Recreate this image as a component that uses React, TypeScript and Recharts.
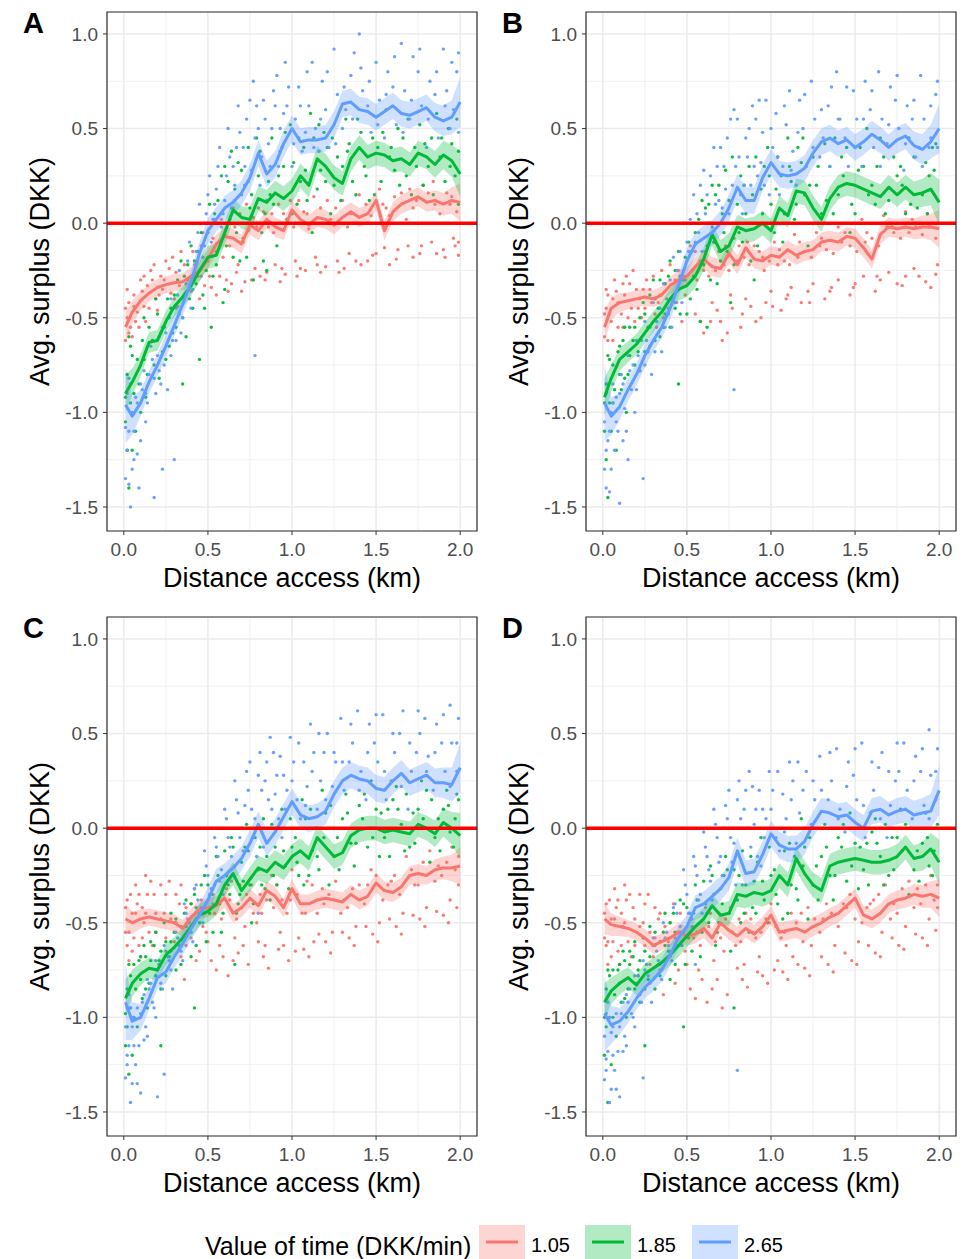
import React from "react";
import {
  ComposedChart,
  Line,
  Area,
  Scatter,
  XAxis,
  YAxis,
  CartesianGrid,
  ReferenceLine,
  ReferenceArea,
  Label,
} from "recharts";

const FONT = "'Liberation Sans', Arial, Helvetica, sans-serif";
const RED = "#F8766D";
const GREEN = "#00BA38";
const BLUE = "#619CFF";

const X_TICKS = [0, 0.5, 1, 1.5, 2];
const X_MINOR = [0.25, 0.75, 1.25, 1.75];
const Y_TICKS = [-1.5, -1, -0.5, 0, 0.5, 1];
const Y_MINOR = [-1.25, -0.75, -0.25, 0.25, 0.75];
const X_DOMAIN: [number, number] = [-0.1, 2.1];
const Y_DOMAIN: [number, number] = [-1.627, 1.116];

const PANEL_LABELS = ["A", "B", "C", "D"];
const SERIES_LABELS = ["1.05", "1.85", "2.65"];
const LEGEND_TITLE = "Value of time (DKK/min)";
const X_TITLE = "Distance access (km)";
const Y_TITLE = "Avg. surplus (DKK)";

// x positions of the smoothed means
const X_GRID = [0.01,0.05,0.1,0.15,0.2,0.25,0.3,0.35,0.4,0.45,0.5,0.55,0.6,0.65,0.7,0.75,0.8,0.85,0.9,0.95,1.0,1.05,1.1,1.15,1.2,1.25,1.3,1.35,1.4,1.45,1.5,1.55,1.6,1.65,1.7,1.75,1.8,1.85,1.9,1.95,2.0];

// smoothed means — panel A
const A_RED = [-0.55,-0.47,-0.41,-0.37,-0.34,-0.325,-0.315,-0.31,-0.28,-0.255,-0.19,-0.11,-0.07,-0.08,-0.11,-0.01,-0.04,0.02,-0.02,-0.04,0.07,0.02,-0.01,0.03,0.02,-0.01,0.03,0.06,0.03,0.05,0.12,-0.04,0.06,0.10,0.12,0.14,0.11,0.12,0.10,0.12,0.11];
const A_GREEN = [-0.90,-0.84,-0.75,-0.63,-0.62,-0.52,-0.44,-0.39,-0.33,-0.25,-0.18,-0.17,-0.05,0.07,0.03,0.02,0.13,0.11,0.16,0.13,0.17,0.25,0.20,0.34,0.30,0.24,0.21,0.34,0.40,0.35,0.37,0.36,0.33,0.34,0.31,0.37,0.35,0.31,0.36,0.33,0.26];
const A_BLUE = [-0.96,-1.02,-0.95,-0.84,-0.75,-0.65,-0.54,-0.43,-0.31,-0.16,-0.04,0.02,0.08,0.11,0.16,0.24,0.37,0.26,0.31,0.42,0.50,0.43,0.44,0.44,0.45,0.52,0.63,0.64,0.60,0.59,0.56,0.59,0.62,0.58,0.57,0.59,0.61,0.56,0.54,0.56,0.64];
// panel B
const B_RED = [-0.55,-0.45,-0.42,-0.41,-0.40,-0.39,-0.40,-0.38,-0.33,-0.30,-0.28,-0.23,-0.19,-0.23,-0.24,-0.16,-0.22,-0.13,-0.19,-0.20,-0.17,-0.18,-0.14,-0.17,-0.15,-0.14,-0.10,-0.09,-0.10,-0.07,-0.08,-0.13,-0.19,-0.06,-0.02,-0.03,-0.02,-0.03,-0.02,-0.02,-0.03];
const B_GREEN = [-0.92,-0.82,-0.72,-0.68,-0.64,-0.58,-0.52,-0.47,-0.40,-0.35,-0.33,-0.28,-0.19,-0.06,-0.15,-0.12,-0.02,-0.04,-0.03,0.0,-0.04,0.08,0.04,0.17,0.16,0.08,0.02,0.13,0.19,0.21,0.20,0.18,0.16,0.14,0.19,0.15,0.19,0.15,0.16,0.18,0.11];
const B_BLUE = [-0.95,-1.02,-0.97,-0.88,-0.80,-0.70,-0.62,-0.55,-0.45,-0.33,-0.20,-0.11,-0.08,-0.05,0.0,0.08,0.19,0.12,0.12,0.24,0.32,0.26,0.25,0.26,0.29,0.37,0.43,0.45,0.42,0.44,0.40,0.43,0.47,0.44,0.40,0.44,0.46,0.41,0.39,0.43,0.50];
// panel C
const C_RED = [-0.48,-0.50,-0.48,-0.47,-0.48,-0.49,-0.50,-0.53,-0.47,-0.43,-0.42,-0.41,-0.37,-0.45,-0.42,-0.37,-0.41,-0.33,-0.36,-0.42,-0.32,-0.40,-0.40,-0.38,-0.37,-0.38,-0.39,-0.35,-0.38,-0.36,-0.29,-0.33,-0.34,-0.31,-0.25,-0.24,-0.25,-0.22,-0.21,-0.21,-0.20];
const C_GREEN = [-0.90,-0.82,-0.77,-0.74,-0.75,-0.67,-0.63,-0.58,-0.52,-0.46,-0.44,-0.40,-0.30,-0.24,-0.33,-0.27,-0.21,-0.23,-0.18,-0.21,-0.15,-0.12,-0.16,-0.05,-0.10,-0.15,-0.13,-0.04,-0.01,0.0,0.0,-0.02,-0.01,-0.02,-0.03,0.02,0.0,-0.03,0.03,0.0,-0.04];
const C_BLUE = [-0.92,-1.02,-1.00,-0.90,-0.79,-0.76,-0.68,-0.61,-0.53,-0.46,-0.38,-0.28,-0.25,-0.21,-0.16,-0.08,0.02,-0.08,-0.02,0.06,0.14,0.07,0.05,0.06,0.09,0.18,0.25,0.28,0.26,0.25,0.21,0.20,0.25,0.29,0.24,0.26,0.28,0.24,0.24,0.23,0.32];
// panel D
const D_RED = [-0.48,-0.51,-0.52,-0.53,-0.55,-0.58,-0.62,-0.60,-0.58,-0.55,-0.57,-0.56,-0.53,-0.58,-0.50,-0.54,-0.57,-0.53,-0.56,-0.52,-0.46,-0.55,-0.54,-0.53,-0.55,-0.52,-0.50,-0.47,-0.45,-0.41,-0.37,-0.46,-0.48,-0.45,-0.40,-0.38,-0.37,-0.35,-0.36,-0.35,-0.37];
const D_GREEN = [-0.92,-0.86,-0.82,-0.79,-0.83,-0.77,-0.74,-0.71,-0.67,-0.62,-0.57,-0.52,-0.48,-0.41,-0.46,-0.45,-0.35,-0.36,-0.34,-0.35,-0.33,-0.25,-0.30,-0.16,-0.24,-0.30,-0.33,-0.20,-0.18,-0.17,-0.16,-0.17,-0.18,-0.18,-0.17,-0.15,-0.10,-0.16,-0.15,-0.11,-0.18];
const D_BLUE = [-0.98,-1.04,-1.02,-0.97,-0.90,-0.84,-0.80,-0.75,-0.67,-0.58,-0.52,-0.42,-0.40,-0.36,-0.32,-0.26,-0.12,-0.24,-0.23,-0.14,-0.03,-0.09,-0.11,-0.11,-0.07,0.02,0.09,0.08,0.06,0.07,0.03,0.0,0.09,0.10,0.07,0.09,0.10,0.07,0.08,0.09,0.20];

// confidence half-widths of the ribbons
const BAND_RED = [0.08,0.06,0.05,0.045,0.045,0.045,0.045,0.045,0.045,0.05,0.05,0.05,0.05,0.05,0.05,0.05,0.05,0.05,0.05,0.05,0.05,0.05,0.05,0.05,0.05,0.05,0.05,0.05,0.05,0.05,0.05,0.05,0.05,0.05,0.05,0.05,0.05,0.055,0.06,0.07,0.10];
const BAND_GREEN = [0.10,0.07,0.06,0.055,0.055,0.055,0.055,0.055,0.055,0.06,0.06,0.06,0.06,0.06,0.06,0.065,0.065,0.065,0.065,0.065,0.065,0.065,0.065,0.065,0.065,0.065,0.065,0.065,0.065,0.065,0.065,0.065,0.065,0.065,0.065,0.065,0.065,0.07,0.075,0.085,0.12];
const BAND_BLUE = [0.20,0.10,0.07,0.06,0.06,0.06,0.06,0.06,0.06,0.06,0.065,0.065,0.065,0.065,0.065,0.07,0.07,0.07,0.07,0.07,0.07,0.07,0.07,0.07,0.07,0.07,0.07,0.07,0.07,0.07,0.07,0.07,0.07,0.07,0.07,0.07,0.07,0.075,0.08,0.09,0.13];

// scatter points, flat [x, y, x, y, ...]
const PTS_A_RED = [0.01,-0.62,0.02,-0.50,0.03,-0.42,0.04,-0.55,0.06,-0.38,0.08,-0.47,0.10,-0.30,0.12,-0.44,0.14,-0.33,0.16,-0.25,0.19,-0.40,0.22,-0.28,0.25,-0.20,0.28,-0.37,0.31,-0.26,0.34,-0.15,0.38,-0.30,0.42,-0.22,0.46,-0.12,0.48,-0.33,
  0.53,-0.08,0.58,0.02,0.63,-0.12,0.69,0.05,0.74,-0.04,0.80,0.08,0.86,-0.02,0.92,0.10,0.98,0.0,1.04,0.12,1.10,-0.03,1.17,0.08,1.23,0.02,1.30,0.12,1.37,0.0,1.44,0.10,1.52,0.18,1.58,0.04,1.65,0.16,1.72,0.08,1.78,0.20,1.85,0.10,1.92,0.16,1.98,0.06,
  0.52,-0.34,0.57,-0.28,0.62,-0.36,0.67,-0.26,0.72,-0.31,0.78,-0.24,0.84,-0.30,0.90,-0.22,0.96,-0.27,1.02,-0.20,1.08,-0.25,1.14,-0.18,1.20,-0.23,1.27,-0.20,1.34,-0.16,1.41,-0.22,1.48,-0.17,1.55,-0.13,1.62,-0.19,1.69,-0.12,1.76,-0.16,1.83,-0.10,1.90,-0.14,1.96,-0.08,1.99,-0.17];
const PTS_A_RED_2 = [0.02,-0.35,0.05,-0.60,0.07,-0.52,0.11,-0.36,0.13,-0.52,0.17,-0.30,0.20,-0.46,0.23,-0.35,0.27,-0.24,0.30,-0.40,0.33,-0.33,0.36,-0.22,0.40,-0.36,0.44,-0.28,0.50,-0.20,0.55,-0.15,0.60,-0.06,0.66,-0.02,0.71,-0.10,0.77,0.03,0.83,0.06,0.89,-0.05,0.95,0.05,1.01,-0.02,1.07,0.06,1.13,0.14,1.26,0.08,1.33,-0.02,1.40,0.15,1.47,0.04,1.54,0.10,1.61,0.14,1.68,0.02,1.74,0.12,1.81,0.16,1.88,0.05,1.95,0.14,0.55,-0.38,0.64,-0.32,0.70,-0.36,0.81,-0.28,0.93,-0.31,1.05,-0.24,1.17,-0.26,1.31,-0.24,1.45,-0.20,1.58,-0.22,1.72,-0.18,1.86,-0.16,1.97,-0.12];
const PTS_A_RED_3 = [0.01,-0.45,0.03,-0.58,0.06,-0.44,0.09,-0.55,0.12,-0.28,0.15,-0.45,0.18,-0.22,0.21,-0.38,0.24,-0.30,0.29,-0.18,0.32,-0.44,0.37,-0.38,0.41,-0.15,0.45,-0.40,0.47,-0.05,0.51,-0.28,0.54,0.02,0.59,-0.18,0.61,-0.30,0.65,0.08,0.68,-0.22,0.73,0.10,0.76,-0.30,0.79,-0.02,0.85,-0.26,0.88,0.05,0.94,-0.24,0.99,0.12,1.03,-0.28,1.09,0.05,1.15,-0.22,1.21,0.12,1.28,-0.26,1.35,0.05,1.38,-0.20,1.46,0.00,1.50,-0.16,1.56,0.08,1.63,-0.14,1.70,0.18,1.77,-0.12,1.84,0.22,1.91,-0.18,1.94,0.10,1.99,-0.10];
const PTS_A_GREEN = [0.01,-1.05,0.02,-0.80,0.03,-1.40,0.04,-0.95,0.05,-0.70,0.07,-1.10,0.09,-0.85,0.11,-0.62,0.13,-0.92,0.15,-0.55,0.18,-0.75,0.20,-0.48,0.23,-0.68,0.26,-0.40,0.29,-0.58,0.32,-0.30,0.35,-0.50,0.38,-0.22,0.41,-0.45,0.44,-0.15,0.47,-0.38,0.50,-0.05,0.53,-0.28,0.56,0.12,0.59,-0.42,0.62,0.22,0.65,-0.18,0.68,0.32,0.71,-0.08,0.74,0.40,0.77,-0.30,0.80,0.25,0.84,0.05,0.88,0.45,0.91,-0.12,0.95,0.30,0.99,0.52,1.03,0.10,1.07,0.40,1.11,0.58,1.15,0.18,1.19,0.48,1.23,0.05,1.27,0.35,1.32,0.55,1.36,0.22,1.41,0.48,1.46,0.12,1.51,0.40,1.56,0.60,1.61,0.28,1.66,0.45,1.71,0.15,1.76,0.52,1.81,0.30,1.86,0.58,1.91,0.22,1.95,0.42,1.99,0.10,1.98,0.55,0.35,-0.85,0.45,-0.72,0.52,-0.55];
const PTS_A_GREEN_2 = [0.02,-1.20,0.04,-0.65,0.06,-0.90,0.10,-1.00,0.12,-0.72,0.17,-0.62,0.21,-0.82,0.24,-0.55,0.27,-0.65,0.30,-0.38,0.33,-0.48,0.36,-0.28,0.39,-0.40,0.42,-0.20,0.46,-0.05,0.49,-0.25,0.54,0.05,0.57,-0.10,0.60,0.30,0.63,0.02,0.66,0.18,0.69,-0.20,0.72,0.20,0.75,0.08,0.79,0.45,0.82,-0.05,0.86,0.22,0.89,0.10,0.93,0.38,0.97,0.02,1.01,0.32,1.05,0.22,1.09,0.12,1.13,0.45,1.17,0.28,1.21,0.40,1.25,0.20,1.30,0.30,1.34,0.42,1.38,0.15,1.43,0.30,1.48,0.45,1.53,0.22,1.58,0.35,1.63,0.50,1.68,0.25,1.73,0.40,1.78,0.20,1.83,0.45,1.88,0.35,1.93,0.50,1.97,0.25,0.60,-0.35,0.85,-0.25];
const PTS_A_GREEN_3 = [0.01,-0.92,0.03,-0.60,0.05,-1.20,0.08,-0.72,0.12,-0.50,0.14,-0.80,0.19,-0.40,0.22,-0.58,0.25,-0.72,0.28,-0.45,0.31,-0.55,0.34,-0.20,0.37,-0.60,0.40,-0.12,0.43,-0.32,0.48,-0.45,0.51,0.10,0.55,-0.22,0.58,0.25,0.61,-0.12,0.64,0.38,0.67,-0.05,0.70,0.28,0.73,-0.18,0.76,0.15,0.81,0.38,0.83,-0.20,0.87,0.15,0.92,0.25,0.96,0.48,1.00,0.05,1.04,0.45,1.08,0.28,1.12,-0.05,1.16,0.52,1.20,0.22,1.24,0.45,1.29,0.12,1.33,0.38,1.39,0.55,1.44,0.25,1.49,0.15,1.54,0.48,1.59,0.40,1.64,0.20,1.69,0.55,1.74,0.30,1.79,0.42,1.84,0.15,1.89,0.45,1.94,0.30,1.99,0.38];
const PTS_A_BLUE = [0.01,-1.35,0.02,-0.90,0.03,-1.10,0.04,-1.50,0.05,-1.00,0.06,-1.25,0.08,-0.95,0.09,-1.40,0.11,-0.88,0.13,-1.05,0.15,-0.80,0.18,-1.45,0.20,-0.70,0.22,-0.85,0.23,-1.30,0.25,-0.58,0.28,-0.70,0.30,-1.25,0.31,-0.45,0.34,-0.58,0.37,-0.32,0.40,-0.45,0.43,-0.15,0.46,-0.28,0.49,0.05,0.52,-0.10,0.55,0.18,0.58,-0.02,0.61,0.25,0.64,0.08,0.67,0.40,0.70,0.15,0.73,0.55,0.76,0.28,0.79,0.62,0.82,0.35,0.85,0.12,0.88,0.50,0.91,0.78,0.94,0.40,0.97,0.62,1.00,0.30,1.04,0.72,1.08,0.48,1.12,0.85,1.16,0.38,1.20,0.60,1.25,0.92,1.30,0.50,1.35,0.78,1.40,1.00,1.45,0.62,1.50,0.85,1.55,0.45,1.60,0.72,1.65,0.95,1.70,0.55,1.75,0.80,1.80,0.40,1.85,0.68,1.90,0.92,1.94,0.50,1.98,0.80,0.78,-0.70];
const PTS_A_BLUE_2 = [0.02,-1.20,0.03,-0.82,0.05,-1.30,0.07,-0.92,0.10,-1.15,0.12,-0.78,0.14,-0.95,0.17,-0.72,0.19,-0.90,0.21,-0.60,0.24,-0.75,0.27,-0.50,0.29,-0.62,0.32,-0.38,0.35,-0.50,0.38,-0.20,0.41,-0.35,0.44,-0.05,0.47,-0.18,0.50,0.15,0.53,0.02,0.56,0.30,0.60,0.12,0.63,0.35,0.66,0.20,0.69,0.48,0.72,0.30,0.75,0.65,0.78,0.45,0.81,0.20,0.84,0.55,0.87,0.30,0.90,0.62,0.93,0.50,0.96,0.85,1.02,0.55,1.06,0.38,1.10,0.62,1.14,0.50,1.18,0.75,1.22,0.40,1.27,0.68,1.32,0.60,1.37,0.90,1.42,0.70,1.47,0.48,1.52,0.65,1.57,0.80,1.62,0.52,1.67,0.70,1.72,0.88,1.77,0.62,1.82,0.75,1.87,0.45,1.92,0.70,1.96,0.60,1.99,0.90];
const PTS_A_BLUE_3 = [0.01,-1.08,0.03,-1.38,0.04,-0.85,0.06,-1.10,0.08,-1.22,0.10,-0.85,0.13,-0.90,0.16,-0.65,0.18,-0.82,0.21,-0.78,0.23,-0.55,0.26,-0.88,0.28,-0.40,0.31,-0.62,0.33,-0.25,0.36,-0.40,0.39,-0.10,0.42,-0.30,0.45,0.10,0.48,-0.12,0.51,0.25,0.54,0.10,0.57,0.40,0.59,0.05,0.62,0.50,0.65,0.30,0.68,0.62,0.71,0.40,0.74,0.22,0.77,0.75,0.80,0.50,0.83,0.65,0.86,0.42,0.89,0.70,0.92,0.30,0.95,0.58,0.98,0.72,1.01,0.42,1.05,0.62,1.09,0.80,1.13,0.40,1.17,0.55,1.21,0.80,1.26,0.42,1.31,0.72,1.36,0.55,1.41,0.82,1.46,0.75,1.51,0.52,1.56,0.68,1.61,0.88,1.66,0.48,1.71,0.65,1.76,0.92,1.81,0.55,1.86,0.80,1.91,0.62,1.95,0.85,1.99,0.48];

const PTS_B_RED = [0.01,-0.60,0.02,-0.45,0.03,-0.38,0.05,-0.52,0.07,-0.30,0.09,-0.42,0.12,-0.55,0.14,-0.28,0.17,-0.45,0.20,-0.35,0.23,-0.50,0.26,-0.30,0.29,-0.42,0.32,-0.55,0.35,-0.25,0.39,-0.45,0.43,-0.30,0.47,-0.52,0.50,-0.20,
  0.55,-0.15,0.60,-0.25,0.66,-0.10,0.72,-0.22,0.78,-0.08,0.84,-0.18,0.90,-0.12,0.96,-0.25,1.02,-0.10,1.08,-0.20,1.14,-0.06,1.20,-0.15,1.27,-0.05,1.33,-0.14,1.40,-0.02,1.47,-0.12,1.54,0.02,1.60,-0.08,1.67,0.04,1.73,-0.05,1.80,0.06,1.86,-0.02,1.93,0.05,1.98,-0.08,
  0.55,-0.48,0.60,-0.58,0.65,-0.42,0.70,-0.52,0.76,-0.38,0.82,-0.55,0.88,-0.44,0.94,-0.50,1.00,-0.36,1.06,-0.46,1.12,-0.34,1.18,-0.42,1.25,-0.32,1.32,-0.40,1.40,-0.30,1.47,-0.38,1.55,-0.28,1.62,-0.36,1.70,-0.26,1.78,-0.33,1.85,-0.24,1.92,-0.31,1.98,-0.27];
const PTS_B_RED_2 = [0.02,-0.35,0.04,-0.48,0.06,-0.62,0.08,-0.36,0.11,-0.48,0.13,-0.38,0.16,-0.32,0.19,-0.52,0.22,-0.40,0.25,-0.45,0.28,-0.35,0.31,-0.48,0.34,-0.38,0.37,-0.32,0.41,-0.40,0.45,-0.25,0.49,-0.38,0.58,-0.20,0.63,-0.28,0.69,-0.15,0.75,-0.25,0.81,-0.12,0.87,-0.22,0.93,-0.15,0.99,-0.20,1.05,-0.14,1.11,-0.22,1.17,-0.10,1.24,-0.18,1.30,-0.08,1.37,-0.16,1.44,-0.05,1.51,-0.15,1.57,-0.05,1.64,-0.12,1.71,0.0,1.77,-0.08,1.84,0.02,1.90,-0.06,1.96,0.0,0.58,-0.52,0.68,-0.46,0.74,-0.58,0.85,-0.40,0.97,-0.42,1.09,-0.40,1.22,-0.36,1.36,-0.34,1.50,-0.32,1.65,-0.30,1.80,-0.28,1.95,-0.34];
const PTS_B_RED_3 = [0.01,-0.48,0.03,-0.62,0.06,-0.40,0.09,-0.55,0.12,-0.32,0.15,-0.50,0.18,-0.25,0.21,-0.45,0.24,-0.35,0.27,-0.55,0.30,-0.28,0.33,-0.42,0.36,-0.50,0.40,-0.22,0.44,-0.42,0.48,-0.28,0.52,-0.12,0.56,-0.30,0.61,-0.15,0.64,-0.52,0.67,-0.25,0.71,-0.62,0.73,-0.12,0.77,-0.45,0.80,-0.20,0.83,-0.48,0.86,-0.10,0.91,-0.52,0.95,-0.18,1.01,-0.44,1.04,-0.22,1.10,-0.38,1.16,-0.18,1.23,-0.42,1.29,-0.12,1.35,-0.36,1.42,-0.10,1.49,-0.34,1.56,-0.10,1.63,-0.28,1.69,-0.02,1.75,-0.32,1.82,-0.05,1.88,-0.28,1.94,-0.02,1.99,-0.22];
const PTS_B_GREEN = [0.01,-1.10,0.02,-0.85,0.03,-1.45,0.04,-0.95,0.06,-0.75,0.08,-1.20,0.10,-0.80,0.12,-0.62,0.14,-1.00,0.16,-0.70,0.19,-0.55,0.22,-0.78,0.25,-0.48,0.28,-0.65,0.31,-0.40,0.34,-0.60,0.37,-0.32,0.40,-0.55,0.43,-0.25,0.46,-0.48,0.49,-0.18,0.52,-0.40,0.55,-0.05,0.58,-0.52,0.61,0.08,0.64,-0.30,0.67,0.15,0.70,-0.20,0.73,0.28,0.76,-0.42,0.80,0.10,0.83,-0.10,0.87,0.30,0.90,-0.30,0.94,0.18,0.98,0.40,1.02,-0.05,1.06,0.25,1.10,0.45,1.14,0.02,1.18,0.32,1.22,-0.12,1.27,0.20,1.32,0.42,1.37,0.05,1.42,0.35,1.47,-0.05,1.52,0.28,1.57,0.50,1.62,0.10,1.67,0.35,1.72,-0.02,1.77,0.30,1.82,0.45,1.87,0.08,1.92,0.32,1.96,0.40,1.99,0.0,0.45,-0.85,0.62,-0.55];
const PTS_B_GREEN_2 = [0.02,-1.25,0.04,-0.72,0.06,-0.95,0.09,-0.68,0.11,-0.88,0.13,-0.55,0.15,-0.80,0.18,-0.62,0.21,-0.68,0.24,-0.42,0.27,-0.55,0.30,-0.30,0.33,-0.45,0.36,-0.55,0.39,-0.28,0.42,-0.40,0.45,-0.15,0.48,-0.30,0.51,-0.10,0.54,-0.28,0.57,0.02,0.60,-0.22,0.63,0.10,0.66,-0.10,0.69,0.20,0.72,-0.05,0.75,0.12,0.78,-0.22,0.82,0.25,0.85,0.05,0.89,0.15,0.92,-0.12,0.96,0.30,1.00,0.10,1.04,0.35,1.08,0.05,1.12,0.22,1.16,0.40,1.20,0.15,1.25,0.35,1.30,0.05,1.35,0.30,1.40,0.15,1.45,0.40,1.50,0.05,1.55,0.30,1.60,0.20,1.65,0.45,1.70,0.12,1.75,0.25,1.80,0.05,1.85,0.35,1.90,0.15,1.94,0.25,1.98,0.42];
const PTS_B_GREEN_3 = [0.01,-0.95,0.03,-0.70,0.05,-1.10,0.07,-0.88,0.10,-0.65,0.13,-0.82,0.16,-0.55,0.19,-0.75,0.22,-0.50,0.25,-0.68,0.28,-0.38,0.31,-0.62,0.34,-0.30,0.37,-0.48,0.40,-0.20,0.43,-0.45,0.46,-0.28,0.50,-0.48,0.53,-0.15,0.56,-0.35,0.59,0.12,0.62,-0.12,0.65,0.20,0.68,-0.32,0.71,0.05,0.74,-0.15,0.77,0.35,0.81,-0.05,0.84,0.20,0.88,-0.20,0.91,0.35,0.95,0.05,0.99,0.25,1.03,0.18,1.07,-0.10,1.11,0.30,1.15,0.10,1.19,0.45,1.23,0.20,1.28,0.30,1.33,0.12,1.38,0.45,1.43,0.25,1.48,0.10,1.53,0.40,1.58,0.15,1.63,0.30,1.68,0.05,1.73,0.35,1.78,0.20,1.83,0.10,1.88,0.40,1.93,0.05,1.97,0.28];
const PTS_B_BLUE = [0.01,-1.30,0.02,-0.90,0.03,-1.15,0.04,-1.42,0.05,-1.00,0.07,-1.20,0.08,-0.92,0.10,-1.48,0.12,-0.85,0.14,-1.10,0.16,-0.78,0.19,-1.00,0.21,-0.70,0.24,-1.35,0.26,-0.62,0.29,-0.80,0.32,-0.52,0.35,-0.68,0.38,-0.40,0.41,-0.55,0.44,-0.25,0.47,-0.42,0.50,-0.10,0.53,-0.25,0.56,0.05,0.59,-0.15,0.62,0.15,0.65,-0.02,0.68,0.30,0.71,0.08,0.74,0.45,0.77,0.20,0.80,0.55,0.83,0.05,0.86,0.35,0.89,0.62,0.92,0.25,0.95,0.48,0.99,0.15,1.03,0.58,1.07,0.30,1.11,0.70,1.15,0.20,1.19,0.50,1.24,0.75,1.29,0.35,1.34,0.62,1.39,0.80,1.44,0.45,1.49,0.70,1.54,0.30,1.59,0.60,1.64,0.80,1.69,0.42,1.74,0.65,1.79,0.28,1.84,0.55,1.89,0.78,1.94,0.40,1.98,0.68,0.78,-0.88];
const PTS_B_BLUE_2 = [0.02,-1.20,0.03,-0.85,0.05,-1.30,0.06,-0.95,0.09,-1.10,0.11,-0.80,0.13,-0.98,0.15,-1.25,0.18,-0.75,0.20,-0.88,0.23,-0.62,0.25,-0.75,0.28,-0.55,0.31,-0.68,0.34,-0.45,0.37,-0.55,0.40,-0.30,0.43,-0.42,0.46,-0.15,0.49,-0.30,0.52,0.02,0.55,-0.10,0.58,0.20,0.61,0.05,0.64,0.25,0.67,0.10,0.70,0.40,0.73,0.18,0.76,0.55,0.79,0.30,0.82,0.15,0.85,0.45,0.88,0.20,0.91,0.55,0.94,0.32,0.97,0.65,1.01,0.40,1.05,0.15,1.09,0.52,1.13,0.38,1.17,0.65,1.21,0.30,1.26,0.55,1.31,0.45,1.36,0.72,1.41,0.55,1.46,0.30,1.51,0.55,1.56,0.75,1.61,0.40,1.66,0.55,1.71,0.72,1.76,0.50,1.81,0.62,1.86,0.35,1.91,0.55,1.95,0.45,1.99,0.75];
const PTS_B_BLUE_3 = [0.01,-1.05,0.02,-1.40,0.04,-1.10,0.06,-0.85,0.08,-1.05,0.10,-0.90,0.12,-1.15,0.15,-0.70,0.17,-0.88,0.20,-0.62,0.22,-0.78,0.25,-0.52,0.27,-0.68,0.30,-0.42,0.33,-0.58,0.36,-0.32,0.39,-0.48,0.42,-0.18,0.45,-0.35,0.48,0.00,0.51,-0.15,0.54,0.15,0.57,-0.05,0.60,0.28,0.63,0.00,0.66,0.40,0.69,0.12,0.72,0.30,0.75,0.05,0.78,0.60,0.81,0.35,0.84,0.20,0.87,0.50,0.90,0.30,0.93,0.65,0.96,0.20,1.00,0.50,1.04,0.35,1.08,0.62,1.12,0.28,1.16,0.48,1.20,0.68,1.25,0.40,1.30,0.60,1.35,0.30,1.40,0.55,1.45,0.72,1.50,0.40,1.55,0.55,1.60,0.70,1.65,0.30,1.70,0.52,1.75,0.78,1.80,0.42,1.85,0.65,1.90,0.30,1.95,0.62,1.99,0.40];

const PTS_C_RED = [0.01,-0.55,0.02,-0.38,0.03,-0.70,0.05,-0.45,0.07,-0.30,0.09,-0.62,0.11,-0.42,0.13,-0.25,0.15,-0.55,0.18,-0.35,0.21,-0.72,0.24,-0.45,0.27,-0.28,0.30,-0.60,0.33,-0.40,0.36,-0.80,0.39,-0.50,0.42,-0.32,0.45,-0.65,0.48,-0.45,
  0.53,-0.35,0.58,-0.48,0.64,-0.28,0.70,-0.42,0.76,-0.30,0.82,-0.45,0.88,-0.25,0.94,-0.38,1.00,-0.22,1.06,-0.45,1.12,-0.30,1.19,-0.40,1.26,-0.28,1.33,-0.42,1.40,-0.30,1.47,-0.22,1.54,-0.38,1.61,-0.25,1.68,-0.15,1.75,-0.30,1.82,-0.12,1.89,-0.25,1.95,-0.10,1.99,-0.30,
  0.52,-0.70,0.57,-0.62,0.62,-0.78,0.68,-0.66,0.74,-0.72,0.80,-0.60,0.86,-0.74,0.92,-0.64,0.98,-0.70,1.04,-0.58,1.10,-0.68,1.16,-0.56,1.23,-0.66,1.30,-0.55,1.37,-0.62,1.44,-0.52,1.51,-0.60,1.58,-0.48,1.65,-0.56,1.72,-0.46,1.79,-0.52,1.86,-0.44,1.93,-0.50,1.98,-0.42];
const PTS_C_RED_2 = [0.02,-0.62,0.04,-0.35,0.06,-0.58,0.08,-0.40,0.10,-0.68,0.12,-0.50,0.14,-0.35,0.17,-0.62,0.19,-0.45,0.22,-0.30,0.25,-0.58,0.28,-0.48,0.31,-0.35,0.34,-0.68,0.37,-0.42,0.40,-0.58,0.43,-0.48,0.46,-0.38,0.49,-0.55,0.56,-0.40,0.61,-0.32,0.67,-0.48,0.73,-0.35,0.79,-0.50,0.85,-0.38,0.91,-0.30,0.97,-0.45,1.03,-0.35,1.09,-0.28,1.15,-0.45,1.22,-0.35,1.29,-0.45,1.36,-0.32,1.43,-0.40,1.50,-0.25,1.57,-0.30,1.64,-0.35,1.71,-0.22,1.78,-0.18,1.85,-0.28,1.92,-0.18,1.97,-0.22,0.55,-0.75,0.65,-0.70,0.71,-0.62,0.83,-0.68,0.95,-0.62,1.07,-0.64,1.20,-0.60,1.34,-0.58,1.48,-0.56,1.62,-0.52,1.76,-0.48,1.90,-0.46];
const PTS_C_RED_3 = [0.01,-0.42,0.03,-0.55,0.05,-0.65,0.07,-0.45,0.09,-0.35,0.11,-0.58,0.13,-0.45,0.16,-0.28,0.19,-0.55,0.22,-0.48,0.25,-0.35,0.28,-0.65,0.31,-0.50,0.34,-0.30,0.37,-0.62,0.40,-0.40,0.43,-0.70,0.47,-0.52,0.50,-0.60,0.54,-0.45,0.59,-0.68,0.63,-0.38,0.66,-0.58,0.69,-0.30,0.72,-0.52,0.77,-0.45,0.81,-0.35,0.84,-0.62,0.89,-0.42,0.93,-0.55,0.99,-0.38,1.02,-0.65,1.08,-0.45,1.13,-0.60,1.18,-0.32,1.24,-0.55,1.31,-0.38,1.38,-0.52,1.45,-0.30,1.52,-0.50,1.59,-0.28,1.66,-0.45,1.73,-0.30,1.80,-0.42,1.87,-0.20,1.94,-0.38,1.99,-0.15];
const PTS_C_GREEN = [0.01,-1.15,0.02,-0.85,0.03,-1.30,0.04,-0.95,0.06,-0.72,0.08,-1.05,0.10,-0.80,0.12,-0.62,0.14,-0.95,0.16,-0.70,0.19,-0.55,0.22,-0.85,0.25,-0.60,0.28,-0.45,0.31,-0.75,0.34,-0.52,0.37,-0.38,0.40,-0.68,0.43,-0.42,0.46,-0.30,0.49,-0.60,0.52,-0.35,0.55,-0.15,0.58,-0.55,0.61,-0.25,0.64,-0.05,0.67,-0.45,0.70,-0.18,0.73,0.02,0.76,-0.50,0.80,-0.22,0.83,0.05,0.87,-0.38,0.90,-0.10,0.94,0.10,0.98,-0.32,1.02,-0.05,1.06,0.15,1.10,-0.25,1.14,0.0,1.18,0.20,1.22,-0.30,1.27,-0.05,1.32,0.18,1.37,-0.20,1.42,0.05,1.47,0.25,1.52,-0.15,1.57,0.10,1.62,0.22,1.67,-0.12,1.72,0.08,1.77,0.25,1.82,-0.18,1.87,0.05,1.92,0.20,1.96,-0.10,1.99,0.15,0.22,-1.15,0.42,-0.95,0.66,-0.72];
const PTS_C_GREEN_2 = [0.02,-1.05,0.04,-0.78,0.06,-1.00,0.09,-0.70,0.11,-0.90,0.13,-0.68,0.15,-0.82,0.18,-0.62,0.21,-0.70,0.24,-0.50,0.27,-0.68,0.30,-0.55,0.33,-0.62,0.36,-0.45,0.39,-0.55,0.42,-0.35,0.45,-0.50,0.48,-0.25,0.51,-0.45,0.54,-0.30,0.57,-0.40,0.60,-0.12,0.63,-0.35,0.66,-0.20,0.69,-0.35,0.72,-0.10,0.75,-0.30,0.78,-0.05,0.82,-0.30,0.85,-0.15,0.89,-0.25,0.92,0.00,0.96,-0.20,1.00,-0.10,1.04,-0.25,1.08,0.05,1.12,-0.12,1.16,-0.22,1.20,0.08,1.25,-0.15,1.30,0.05,1.35,-0.08,1.40,0.12,1.45,-0.10,1.50,0.10,1.55,-0.05,1.60,0.15,1.65,0.02,1.70,-0.10,1.75,0.10,1.80,0.20,1.85,-0.05,1.90,0.10,1.94,-0.02,1.98,0.18];
const PTS_C_GREEN_3 = [0.01,-0.98,0.03,-0.72,0.05,-1.20,0.07,-0.85,0.10,-0.68,0.13,-0.85,0.16,-0.60,0.19,-0.78,0.22,-0.65,0.25,-0.78,0.28,-0.60,0.31,-0.48,0.34,-0.72,0.37,-0.52,0.40,-0.40,0.43,-0.62,0.46,-0.45,0.50,-0.30,0.53,-0.55,0.56,-0.25,0.59,-0.45,0.62,-0.30,0.65,-0.10,0.68,-0.40,0.71,-0.28,0.74,-0.12,0.77,-0.40,0.81,-0.10,0.84,-0.32,0.88,0.02,0.91,-0.30,0.95,-0.12,0.99,0.05,1.03,-0.18,1.07,-0.30,1.11,0.10,1.15,-0.15,1.19,-0.05,1.23,0.12,1.28,-0.22,1.33,0.08,1.38,-0.08,1.43,0.18,1.48,-0.05,1.53,0.08,1.58,-0.15,1.63,0.10,1.68,0.18,1.73,-0.08,1.78,0.05,1.83,0.15,1.88,-0.12,1.93,0.12,1.97,0.05];
const PTS_C_BLUE = [0.01,-1.32,0.02,-0.95,0.03,-1.15,0.04,-1.45,0.05,-1.05,0.07,-1.25,0.08,-0.95,0.10,-1.40,0.12,-0.88,0.14,-1.10,0.16,-0.82,0.19,-1.00,0.21,-0.72,0.24,-1.30,0.26,-0.68,0.29,-0.85,0.32,-0.58,0.35,-0.70,0.38,-0.48,0.41,-0.60,0.44,-0.38,0.47,-0.50,0.50,-0.25,0.53,-0.40,0.56,-0.15,0.59,-0.35,0.62,-0.05,0.65,-0.25,0.68,0.08,0.71,-0.12,0.74,0.20,0.77,-0.05,0.80,0.28,0.83,-0.10,0.86,0.15,0.89,0.40,0.92,0.05,0.95,0.28,0.99,0.48,1.03,0.15,1.07,0.35,1.11,0.55,1.15,0.10,1.19,0.40,1.24,0.22,1.29,0.58,1.34,0.35,1.39,0.62,1.44,0.15,1.49,0.45,1.54,0.60,1.59,0.25,1.64,0.50,1.69,0.10,1.74,0.40,1.79,0.58,1.84,0.20,1.89,0.45,1.94,0.65,1.98,0.30,0.80,-0.45,0.20,-1.42];
const PTS_C_BLUE_2 = [0.02,-1.20,0.03,-0.88,0.05,-1.35,0.06,-1.00,0.09,-1.15,0.11,-0.92,0.13,-1.05,0.15,-0.85,0.18,-0.95,0.20,-0.75,0.23,-0.85,0.25,-0.65,0.28,-0.75,0.31,-0.55,0.34,-0.65,0.37,-0.45,0.40,-0.55,0.43,-0.30,0.46,-0.42,0.49,-0.20,0.52,-0.32,0.55,-0.10,0.58,-0.22,0.61,0.05,0.64,-0.15,0.67,0.15,0.70,0.00,0.73,0.30,0.76,0.10,0.79,-0.15,0.82,0.20,0.85,0.35,0.88,0.10,0.91,0.28,0.94,-0.05,0.97,0.20,1.01,0.35,1.05,0.05,1.09,0.22,1.13,0.40,1.17,0.25,1.21,0.50,1.26,0.35,1.31,0.20,1.36,0.45,1.41,0.30,1.46,0.55,1.51,0.35,1.56,0.15,1.61,0.40,1.66,0.62,1.71,0.30,1.76,0.50,1.81,0.38,1.86,0.55,1.91,0.30,1.95,0.45,1.99,0.58];
const PTS_C_BLUE_3 = [0.01,-1.05,0.02,-1.25,0.04,-0.95,0.06,-1.15,0.08,-1.35,0.10,-0.98,0.12,-1.12,0.14,-0.80,0.17,-0.92,0.19,-0.70,0.22,-0.82,0.24,-0.62,0.27,-0.70,0.30,-0.50,0.33,-0.62,0.36,-0.40,0.39,-0.55,0.42,-0.32,0.45,-0.45,0.48,-0.12,0.51,-0.35,0.54,-0.05,0.57,-0.28,0.60,0.10,0.63,-0.10,0.66,0.25,0.69,-0.05,0.72,0.12,0.75,0.35,0.78,0.05,0.81,0.40,0.84,0.25,0.87,0.48,0.90,0.18,0.93,0.38,0.96,0.10,1.00,0.25,1.04,0.45,1.08,0.12,1.12,0.30,1.16,0.50,1.20,0.15,1.25,0.40,1.30,0.35,1.35,0.55,1.40,0.20,1.45,0.40,1.50,0.60,1.55,0.30,1.60,0.50,1.65,0.22,1.70,0.45,1.75,0.62,1.80,0.30,1.85,0.40,1.90,0.60,1.94,0.22,1.98,0.45];

const PTS_D_RED = [0.01,-0.58,0.02,-0.40,0.03,-0.72,0.05,-0.48,0.07,-0.32,0.09,-0.65,0.11,-0.45,0.13,-0.30,0.15,-0.60,0.18,-0.42,0.21,-0.78,0.24,-0.50,0.27,-0.35,0.30,-0.68,0.33,-0.48,0.36,-0.88,0.39,-0.60,0.42,-0.40,0.45,-0.75,0.48,-0.55,
  0.53,-0.48,0.58,-0.62,0.64,-0.45,0.70,-0.58,0.76,-0.42,0.82,-0.60,0.88,-0.48,0.94,-0.55,1.00,-0.40,1.06,-0.58,1.12,-0.45,1.19,-0.60,1.26,-0.48,1.33,-0.40,1.40,-0.52,1.47,-0.35,1.54,-0.50,1.61,-0.38,1.68,-0.30,1.75,-0.45,1.82,-0.28,1.89,-0.40,1.95,-0.25,1.99,-0.42,
  0.52,-0.85,0.57,-0.75,0.62,-0.92,0.68,-0.80,0.74,-0.88,0.80,-0.74,0.86,-0.84,0.92,-0.76,0.98,-0.82,1.04,-0.70,1.10,-0.80,1.16,-0.72,1.23,-0.78,1.30,-0.68,1.37,-0.76,1.44,-0.66,1.51,-0.72,1.58,-0.62,1.65,-0.68,1.72,-0.58,1.79,-0.64,1.86,-0.56,1.93,-0.62,1.98,-0.54];
const PTS_D_RED_2 = [0.02,-0.62,0.04,-0.38,0.06,-0.60,0.08,-0.42,0.10,-0.72,0.12,-0.52,0.14,-0.38,0.17,-0.68,0.19,-0.48,0.22,-0.35,0.25,-0.62,0.28,-0.55,0.31,-0.42,0.34,-0.75,0.37,-0.52,0.40,-0.68,0.43,-0.58,0.46,-0.45,0.49,-0.65,0.56,-0.55,0.61,-0.42,0.67,-0.60,0.73,-0.48,0.79,-0.62,0.85,-0.45,0.91,-0.58,0.97,-0.48,1.03,-0.52,1.09,-0.62,1.15,-0.50,1.22,-0.42,1.29,-0.55,1.36,-0.45,1.43,-0.40,1.50,-0.48,1.57,-0.42,1.64,-0.35,1.71,-0.48,1.78,-0.32,1.85,-0.42,1.92,-0.30,1.97,-0.38,0.55,-0.90,0.65,-0.85,0.71,-0.95,0.83,-0.80,0.95,-0.78,1.07,-0.76,1.20,-0.74,1.34,-0.72,1.48,-0.70,1.62,-0.66,1.76,-0.62,1.90,-0.58];
const PTS_D_RED_3 = [0.01,-0.45,0.03,-0.60,0.05,-0.68,0.07,-0.48,0.09,-0.38,0.11,-0.62,0.13,-0.50,0.16,-0.35,0.19,-0.62,0.22,-0.52,0.25,-0.40,0.28,-0.72,0.31,-0.58,0.34,-0.45,0.37,-0.70,0.40,-0.50,0.43,-0.82,0.47,-0.62,0.50,-0.72,0.54,-0.58,0.59,-0.80,0.63,-0.52,0.66,-0.70,0.69,-0.45,0.72,-0.65,0.77,-0.55,0.81,-0.48,0.84,-0.72,0.89,-0.55,0.93,-0.68,0.99,-0.50,1.02,-0.75,1.08,-0.55,1.13,-0.68,1.18,-0.45,1.24,-0.62,1.31,-0.48,1.38,-0.62,1.45,-0.42,1.52,-0.60,1.59,-0.40,1.66,-0.55,1.73,-0.40,1.80,-0.52,1.87,-0.32,1.94,-0.48,1.99,-0.30];
const PTS_D_GREEN = [0.01,-1.20,0.02,-0.85,0.03,-1.45,0.04,-1.00,0.06,-0.75,0.08,-1.10,0.10,-0.82,0.12,-0.65,0.14,-1.00,0.16,-0.72,0.19,-0.60,0.22,-0.92,0.25,-0.65,0.28,-0.52,0.31,-0.85,0.34,-0.60,0.37,-0.45,0.40,-0.80,0.43,-0.55,0.46,-0.38,0.49,-0.72,0.52,-0.48,0.55,-0.30,0.58,-0.68,0.61,-0.40,0.64,-0.20,0.67,-0.62,0.70,-0.32,0.73,-0.15,0.76,-0.65,0.80,-0.38,0.83,-0.12,0.87,-0.55,0.90,-0.28,0.94,-0.05,0.98,-0.50,1.02,-0.22,1.06,0.0,1.10,-0.45,1.14,-0.15,1.18,0.05,1.22,-0.48,1.27,-0.20,1.32,0.02,1.37,-0.38,1.42,-0.10,1.47,0.08,1.52,-0.32,1.57,-0.08,1.62,0.05,1.67,-0.30,1.72,-0.05,1.77,0.10,1.82,-0.35,1.87,-0.12,1.92,0.08,1.96,-0.25,1.99,0.02,0.25,-1.15,0.48,-1.05,0.78,-0.95];
const PTS_D_GREEN_2 = [0.02,-1.05,0.04,-0.78,0.06,-1.00,0.09,-0.75,0.11,-0.92,0.13,-0.70,0.15,-0.85,0.18,-0.68,0.21,-0.75,0.24,-0.58,0.27,-0.80,0.30,-0.62,0.33,-0.72,0.36,-0.55,0.39,-0.65,0.42,-0.45,0.45,-0.62,0.48,-0.40,0.51,-0.58,0.54,-0.45,0.57,-0.55,0.60,-0.28,0.63,-0.50,0.66,-0.35,0.69,-0.50,0.72,-0.25,0.75,-0.45,0.78,-0.22,0.82,-0.50,0.85,-0.30,0.89,-0.42,0.92,-0.18,0.96,-0.38,1.00,-0.25,1.04,-0.40,1.08,-0.12,1.12,-0.30,1.16,-0.38,1.20,-0.10,1.25,-0.30,1.30,-0.15,1.35,-0.25,1.40,-0.05,1.45,-0.28,1.50,-0.08,1.55,-0.22,1.60,-0.02,1.65,-0.15,1.70,-0.25,1.75,-0.05,1.80,0.02,1.85,-0.22,1.90,-0.08,1.94,-0.20,1.98,0.0];
const PTS_D_GREEN_3 = [0.01,-1.00,0.03,-0.75,0.05,-1.25,0.07,-0.88,0.10,-0.72,0.13,-0.90,0.16,-0.65,0.19,-0.85,0.22,-0.70,0.25,-0.85,0.28,-0.68,0.31,-0.55,0.34,-0.78,0.37,-0.62,0.40,-0.50,0.43,-0.72,0.46,-0.55,0.50,-0.42,0.53,-0.65,0.56,-0.38,0.59,-0.55,0.62,-0.45,0.65,-0.25,0.68,-0.55,0.71,-0.40,0.74,-0.22,0.77,-0.55,0.81,-0.25,0.84,-0.45,0.88,-0.15,0.91,-0.45,0.95,-0.28,0.99,-0.10,1.03,-0.35,1.07,-0.48,1.11,-0.08,1.15,-0.32,1.19,-0.20,1.23,-0.05,1.28,-0.38,1.33,-0.10,1.38,-0.25,1.43,0.02,1.48,-0.20,1.53,-0.10,1.58,-0.30,1.63,-0.08,1.68,0.02,1.73,-0.22,1.78,-0.12,1.83,0.00,1.88,-0.28,1.93,-0.05,1.97,-0.12];
const PTS_D_BLUE = [0.01,-1.33,0.02,-0.98,0.03,-1.18,0.04,-1.45,0.05,-1.08,0.07,-1.28,0.08,-0.98,0.10,-1.42,0.12,-0.92,0.14,-1.15,0.16,-0.85,0.19,-1.05,0.21,-0.78,0.24,-1.32,0.26,-0.72,0.29,-0.92,0.32,-0.65,0.35,-0.80,0.38,-0.55,0.41,-0.70,0.44,-0.45,0.47,-0.62,0.50,-0.35,0.53,-0.52,0.56,-0.25,0.59,-0.45,0.62,-0.15,0.65,-0.38,0.68,-0.05,0.71,-0.25,0.74,0.05,0.77,-0.18,0.80,0.15,0.83,-0.30,0.86,0.0,0.89,0.22,0.92,-0.15,0.95,0.10,0.99,0.30,1.03,-0.05,1.07,0.18,1.11,0.35,1.15,-0.08,1.19,0.20,1.24,0.02,1.29,0.38,1.34,0.15,1.39,0.42,1.44,-0.02,1.49,0.28,1.54,0.45,1.59,0.08,1.64,0.32,1.69,-0.05,1.74,0.25,1.79,0.45,1.84,0.05,1.89,0.30,1.94,0.52,1.98,0.15,0.80,-1.28,0.55,-0.72];
const PTS_D_BLUE_2 = [0.02,-1.22,0.03,-0.92,0.05,-1.38,0.06,-1.05,0.09,-1.18,0.11,-0.98,0.13,-1.10,0.15,-0.92,0.18,-1.00,0.20,-0.82,0.23,-0.92,0.25,-0.75,0.28,-0.82,0.31,-0.62,0.34,-0.72,0.37,-0.58,0.40,-0.65,0.43,-0.40,0.46,-0.52,0.49,-0.30,0.52,-0.45,0.55,-0.20,0.58,-0.35,0.61,-0.10,0.64,-0.28,0.67,0.02,0.70,-0.15,0.73,0.12,0.76,-0.05,0.79,-0.30,0.82,0.05,0.85,0.20,0.88,-0.10,0.91,0.10,0.94,-0.20,0.97,0.05,1.01,0.20,1.05,-0.12,1.09,0.05,1.13,0.25,1.17,0.08,1.21,0.30,1.26,0.15,1.31,0.00,1.36,0.25,1.41,0.10,1.46,0.35,1.51,0.15,1.56,-0.05,1.61,0.20,1.66,0.40,1.71,0.12,1.76,0.30,1.81,0.20,1.86,0.38,1.91,0.12,1.95,0.28,1.99,0.42];
const PTS_D_BLUE_3 = [0.01,-1.10,0.02,-1.28,0.04,-1.00,0.06,-1.20,0.08,-1.38,0.10,-1.05,0.12,-1.18,0.14,-0.88,0.17,-0.98,0.19,-0.78,0.22,-0.88,0.24,-0.70,0.27,-0.78,0.30,-0.58,0.33,-0.70,0.36,-0.50,0.39,-0.62,0.42,-0.42,0.45,-0.55,0.48,-0.22,0.51,-0.45,0.54,-0.15,0.57,-0.38,0.60,-0.02,0.63,-0.22,0.66,0.10,0.69,-0.18,0.72,0.00,0.75,0.20,0.78,-0.08,0.81,0.25,0.84,0.10,0.87,0.30,0.90,0.02,0.93,0.20,0.96,-0.05,1.00,0.10,1.04,0.30,1.08,-0.02,1.12,0.15,1.16,0.35,1.20,0.00,1.25,0.25,1.30,0.20,1.35,0.40,1.40,0.05,1.45,0.22,1.50,0.42,1.55,0.12,1.60,0.35,1.65,0.05,1.70,0.30,1.75,0.45,1.80,0.10,1.85,0.25,1.90,0.42,1.94,0.05,1.98,0.30];

// ---------- helpers that build the tables Recharts needs ----------
function bandAt(band: number[], i: number) {
  return band[i] ?? band[band.length - 1];
}
function buildRows(r: number[], g: number[], b: number[]) {
  return X_GRID.map((x, i) => ({
    x,
    r: r[i],
    g: g[i],
    b: b[i],
    rBand: [r[i] - bandAt(BAND_RED, i), r[i] + bandAt(BAND_RED, i)],
    gBand: [g[i] - bandAt(BAND_GREEN, i), g[i] + bandAt(BAND_GREEN, i)],
    bBand: [b[i] - bandAt(BAND_BLUE, i), b[i] + bandAt(BAND_BLUE, i)],
  }));
}
function pairs(...flats: number[][]) {
  const out: { x: number; y: number }[] = [];
  for (const flat of flats) {
    for (let i = 0; i + 1 < flat.length; i += 2) out.push({ x: flat[i], y: flat[i + 1] });
  }
  return out;
}
const makeDot = (color: string) => (props: any) =>
  props.cx == null || props.cy == null ? (
    <g />
  ) : (
    <circle cx={props.cx} cy={props.cy} r={1.7} fill={color} fillOpacity={0.95} />
  );

// ---------- layout ----------
const CHART_W = 472;
const CHART_H = 601;
const Y_AXIS_W = 100;
const X_AXIS_H = 70;
const MARGIN = { top: 12, right: 2, bottom: 0, left: 0 };

type Pt = { x: number; y: number };
type PanelProps = {
  letter: string;
  left: number;
  top: number;
  red: number[];
  green: number[];
  blue: number[];
  pr: Pt[];
  pg: Pt[];
  pb: Pt[];
};

function Panel({ letter, left, top, red, green, blue, pr, pg, pb }: PanelProps) {
  const rows = buildRows(red, green, blue);
  const yLabel = () => (
    <g>
      <text x={16} y={33} fontFamily={FONT} fontSize={29} fontWeight="bold" fill="#000">
        {letter}
      </text>
      <text
        x={33}
        y={271.5}
        transform="rotate(-90 33 271.5)"
        textAnchor="middle"
        dominantBaseline="central"
        fontFamily={FONT}
        fontSize={27}
        fill="#000"
      >
        {Y_TITLE}
      </text>
    </g>
  );
  const xLabel = () => (
    <text x={Y_AXIS_W + 185} y={587} textAnchor="middle" fontFamily={FONT} fontSize={27} fill="#000">
      {X_TITLE}
    </text>
  );
  const tickStyle = { fontFamily: FONT, fontSize: 19, fill: "#4D4D4D" };
  return (
    <div style={{ position: "absolute", left, top, width: CHART_W, height: CHART_H }}>
      <ComposedChart width={CHART_W} height={CHART_H} data={rows} margin={MARGIN}>
        <CartesianGrid horizontalValues={Y_MINOR} verticalValues={X_MINOR} stroke="#EEEEEE" strokeWidth={0.8} />
        <CartesianGrid stroke="#EBEBEB" strokeWidth={1.5} />
        <XAxis
          type="number"
          dataKey="x"
          domain={X_DOMAIN}
          allowDataOverflow
          ticks={X_TICKS}
          tickFormatter={(v: number) => v.toFixed(1)}
          height={X_AXIS_H}
          axisLine={false}
          tickLine={{ stroke: "#333333" }}
          tickSize={4}
          tickMargin={8}
          tick={tickStyle}
          interval={0}
        >
          <Label value={X_TITLE} content={xLabel} />
        </XAxis>
        <YAxis
          type="number"
          domain={Y_DOMAIN}
          allowDataOverflow
          ticks={Y_TICKS}
          tickFormatter={(v: number) => v.toFixed(1)}
          width={Y_AXIS_W}
          axisLine={false}
          tickLine={{ stroke: "#333333" }}
          tickSize={4}
          tickMargin={5}
          tick={tickStyle}
          interval={0}
        >
          <Label value={Y_TITLE} content={yLabel} />
        </YAxis>
        <Scatter data={pr} dataKey="y" shape={makeDot(RED)} isAnimationActive={false} zIndex={50} />
        <Scatter data={pg} dataKey="y" shape={makeDot(GREEN)} isAnimationActive={false} zIndex={50} />
        <Scatter data={pb} dataKey="y" shape={makeDot(BLUE)} isAnimationActive={false} zIndex={50} />
        <Area dataKey="rBand" fill={RED} fillOpacity={0.3} stroke="none" isAnimationActive={false} activeDot={false} dot={false} zIndex={100} />
        <Area dataKey="gBand" fill={GREEN} fillOpacity={0.3} stroke="none" isAnimationActive={false} activeDot={false} dot={false} zIndex={100} />
        <Area dataKey="bBand" fill={BLUE} fillOpacity={0.3} stroke="none" isAnimationActive={false} activeDot={false} dot={false} zIndex={100} />
        <Line dataKey="r" stroke={RED} strokeWidth={3} dot={false} activeDot={false} strokeLinejoin="round" isAnimationActive={false} zIndex={400} />
        <Line dataKey="g" stroke={GREEN} strokeWidth={3} dot={false} activeDot={false} strokeLinejoin="round" isAnimationActive={false} zIndex={400} />
        <Line dataKey="b" stroke={BLUE} strokeWidth={3} dot={false} activeDot={false} strokeLinejoin="round" isAnimationActive={false} zIndex={400} />
        <ReferenceLine y={0} stroke="#FF0000" strokeWidth={3.5} zIndex={450} />
        <ReferenceArea
          x1={X_DOMAIN[0]}
          x2={X_DOMAIN[1]}
          y1={Y_DOMAIN[0]}
          y2={Y_DOMAIN[1]}
          fill="none"
          fillOpacity={0}
          stroke="#333333"
          strokeWidth={1.2}
          zIndex={500}
        />
      </ComposedChart>
    </div>
  );
}

function LegendBar() {
  const keys = [
    { color: RED, label: SERIES_LABELS[0], x: 479 },
    { color: GREEN, label: SERIES_LABELS[1], x: 585 },
    { color: BLUE, label: SERIES_LABELS[2], x: 692 },
  ];
  return (
    <svg width={965} height={44} style={{ position: "absolute", left: 0, top: 1215 }}>
      <text x={205} y={40} fontFamily={FONT} fontSize={25} fill="#000">
        {LEGEND_TITLE}
      </text>
      {keys.map((k) => (
        <g key={k.label}>
          <rect x={k.x} y={10} width={46} height={34} fill={k.color} fillOpacity={0.3} />
          <line x1={k.x + 7} x2={k.x + 39} y1={27} y2={27} stroke={k.color} strokeWidth={3} />
          <text x={k.x + 52} y={37} fontFamily={FONT} fontSize={20} fill="#000">
            {k.label}
          </text>
        </g>
      ))}
    </svg>
  );
}

export default function App() {
  return (
    <div style={{ position: "absolute", left: 0, top: 0, width: 965, height: 1259, background: "#fff" }}>
      <Panel letter={PANEL_LABELS[0]} left={7} top={0} red={A_RED} green={A_GREEN} blue={A_BLUE}
        pr={pairs(PTS_A_RED, PTS_A_RED_2, PTS_A_RED_3)} pg={pairs(PTS_A_GREEN, PTS_A_GREEN_2, PTS_A_GREEN_3)} pb={pairs(PTS_A_BLUE, PTS_A_BLUE_2, PTS_A_BLUE_3)} />
      <Panel letter={PANEL_LABELS[1]} left={486} top={0} red={B_RED} green={B_GREEN} blue={B_BLUE}
        pr={pairs(PTS_B_RED, PTS_B_RED_2, PTS_B_RED_3)} pg={pairs(PTS_B_GREEN, PTS_B_GREEN_2, PTS_B_GREEN_3)} pb={pairs(PTS_B_BLUE, PTS_B_BLUE_2, PTS_B_BLUE_3)} />
      <Panel letter={PANEL_LABELS[2]} left={7} top={605} red={C_RED} green={C_GREEN} blue={C_BLUE}
        pr={pairs(PTS_C_RED, PTS_C_RED_2, PTS_C_RED_3)} pg={pairs(PTS_C_GREEN, PTS_C_GREEN_2, PTS_C_GREEN_3)} pb={pairs(PTS_C_BLUE, PTS_C_BLUE_2, PTS_C_BLUE_3)} />
      <Panel letter={PANEL_LABELS[3]} left={486} top={605} red={D_RED} green={D_GREEN} blue={D_BLUE}
        pr={pairs(PTS_D_RED, PTS_D_RED_2, PTS_D_RED_3)} pg={pairs(PTS_D_GREEN, PTS_D_GREEN_2, PTS_D_GREEN_3)} pb={pairs(PTS_D_BLUE, PTS_D_BLUE_2, PTS_D_BLUE_3)} />
      <LegendBar />
    </div>
  );
}
